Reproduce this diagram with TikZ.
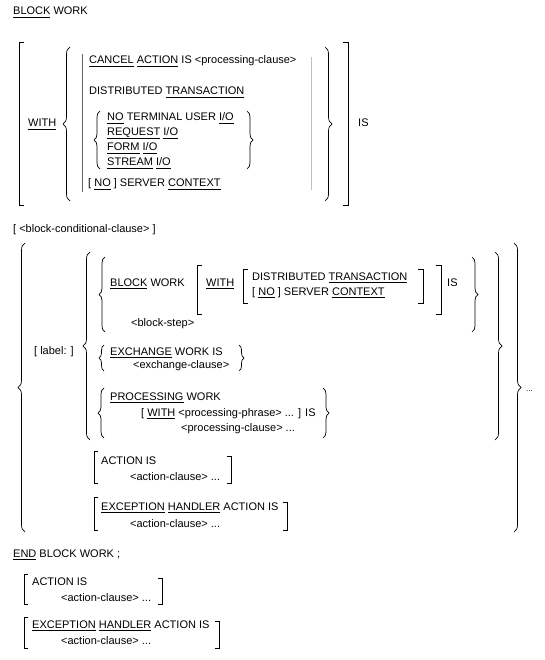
\documentclass[tikz,border=0pt]{standalone}
\usepackage{fontspec}
\setmainfont{Liberation Sans}
\usetikzlibrary{decorations.pathreplacing}
\newcommand{\kw}[1]{\sbox0{#1}\rlap{\rule[-2.8pt]{\wd0}{0.6pt}}\usebox0}

\begin{document}
\begin{tikzpicture}[x=1pt, y=-1pt,
        syn/.style={anchor=base west, inner sep=0pt, font=\fontsize{11}{13}\selectfont},
        brk/.style={line width=0.8pt},
        brc/.style={line width=0.7pt, decorate, decoration={brace, amplitude=#1}},
        brc/.default=7pt,
        bar/.style={line width=0.8pt, draw=black!#1},
        bar/.default=50
    ]
    \useasboundingbox (0,0) rectangle (545,660);
    % BLOCK WORK header and WITH options
    \node[syn] (hdr) at (13,15) {\kw{BLOCK} WORK};
    \node[syn] (with) at (28,127) {\kw{WITH}};
    \node[syn] (cancel) at (89,64) {\kw{CANCEL} \kw{ACTION} IS <processing-clause>};
    \node[syn] (dist) at (89,95) {DISTRIBUTED \kw{TRANSACTION}};
    \node[syn] (noterm) at (107,121) {\kw{NO} TERMINAL USER \kw{I/O}};
    \node[syn] (request) at (107,136) {\kw{REQUEST} \kw{I/O}};
    \node[syn] (form) at (107,151) {\kw{FORM} \kw{I/O}};
    \node[syn] (stream) at (107,166) {\kw{STREAM} \kw{I/O}};
    \node[syn] (noserver) at (88,187) {[ \kw{NO} ] SERVER \kw{CONTEXT}};
    \node[syn] (is) at (358,127) {IS};
    \node[syn] (cond) at (13,232) {[ <block-conditional-clause> ]};
    \draw[brk] (24,42) -- (19,42) -- (19,205) -- (24,205);
    \draw[brk] (343,42) -- (348,42) -- (348,205) -- (343,205);
    \draw[brc] (70,201) -- (70,47);
    \draw[brc] (325,47) -- (325,201);
    \draw[brc=6pt] (100,169) -- (100,111);
    \draw[brc=6pt] (247,111) -- (247,169);
    \draw[bar=60] (82,54) -- (82,192);
    \draw[bar=25] (311,57) -- (311,190);
    % work steps
    \node[syn] (label) at (34,354) {[ label: ]};
    \node[syn] (bw) at (110,286) {\kw{BLOCK} WORK};
    \node[syn] (with2) at (206,286) {\kw{WITH}};
    \node[syn] (dist2) at (252,280) {DISTRIBUTED \kw{TRANSACTION}};
    \node[syn] (noserver2) at (252,295) {[ \kw{NO} ] SERVER \kw{CONTEXT}};
    \node[syn] (is2) at (447,286) {IS};
    \node[syn] (step) at (131,326) {<block-step>};
    \node[syn] (exch) at (110,355) {\kw{EXCHANGE} WORK IS};
    \node[syn] (exchcl) at (133,368) {<exchange-clause>};
    \node[syn] (proc) at (110,400) {\kw{PROCESSING} WORK};
    \node[syn] (procwith) at (141,416) {[ \kw{WITH} <processing-phrase> ... ] IS};
    \node[syn] (proccl) at (181,431) {<processing-clause> ...};
    \node[syn] (act) at (101,464) {ACTION IS};
    \node[syn] (actcl) at (130,480) {<action-clause> ...};
    \node[syn] (exc) at (101,510) {\kw{EXCEPTION} \kw{HANDLER} ACTION IS};
    \node[syn] (exccl) at (130,527) {<action-clause> ...};
    \node[syn, font=\fontsize{8}{9}\selectfont] (dots) at (526,391) {...};
    \draw[brc] (25,532) -- (25,243);
    \draw[brc] (514,243) -- (514,532);
    \draw[brc] (90,440) -- (90,252);
    \draw[brc] (495,252) -- (495,440);
    \draw[brc=6pt] (105,332) -- (105,257);
    \draw[brc=6pt] (472,257) -- (472,332);
    \draw[brc=5pt] (104,371) -- (104,345);
    \draw[brc=5pt] (239,345) -- (239,371);
    \draw[brc=6pt] (104,438) -- (104,388);
    \draw[brc=6pt] (323,388) -- (323,438);
    \draw[brk] (202,265) -- (197,265) -- (197,314) -- (202,314);
    \draw[brk] (248,269) -- (243,269) -- (243,303) -- (248,303);
    \draw[brk] (418,269) -- (423,269) -- (423,303) -- (418,303);
    \draw[brk] (436,265) -- (441,265) -- (441,314) -- (436,314);
    \draw[brk] (98,451) -- (94,451) -- (94,483) -- (98,483);
    \draw[brk] (227,456) -- (231,456) -- (231,483) -- (227,483);
    \draw[brk] (98,497) -- (94,497) -- (94,530) -- (98,530);
    \draw[brk] (283,502) -- (287,502) -- (287,530) -- (283,530);
    % end of block
    \node[syn] (endbw) at (13,557) {\kw{END} BLOCK WORK ;};
    \node[syn] (act3) at (32,585) {ACTION IS};
    \node[syn] (actcl3) at (61,601) {<action-clause> ...};
    \node[syn] (exc3) at (32,628) {\kw{EXCEPTION} \kw{HANDLER} ACTION IS};
    \node[syn] (exccl3) at (61,644) {<action-clause> ...};
    \draw[brk] (28,574) -- (24,574) -- (24,604) -- (28,604);
    \draw[brk] (158,578) -- (162,578) -- (162,604) -- (158,604);
    \draw[brk] (28,617) -- (24,617) -- (24,648) -- (28,648);
    \draw[brk] (215,621) -- (219,621) -- (219,648) -- (215,648);
\end{tikzpicture}
\end{document}
